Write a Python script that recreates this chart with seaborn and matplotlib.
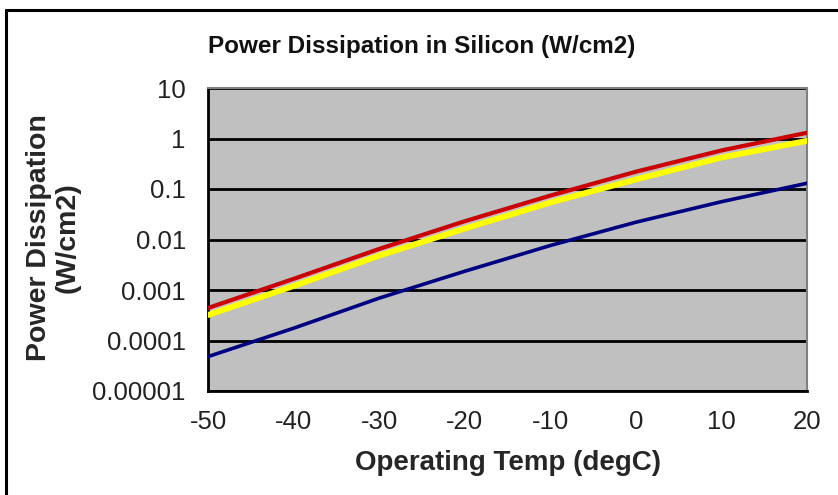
import matplotlib
matplotlib.use("Agg")
import matplotlib.pyplot as plt
from matplotlib.lines import Line2D
from matplotlib.ticker import FixedLocator, FixedFormatter, NullLocator
import seaborn as sns
import pandas as pd
import numpy as np

# Operating temperature (degC) and power dissipation (W/cm2) per curve
temps = [-50, -40, -30, -20, -10, 0, 10, 20]
red_curve = [4.4e-4, 1.66e-3, 6.5e-3, 2.3e-2, 7.4e-2, 0.22, 0.58, 1.3]
yellow_curve = [3.2e-4, 1.2e-3, 4.8e-3, 1.65e-2, 5.4e-2, 0.155, 0.42, 0.9]
navy_curve = [4.8e-5, 1.75e-4, 6.9e-4, 2.35e-3, 7.6e-3, 2.2e-2, 5.6e-2, 0.13]

y_ticks = [1e-5, 1e-4, 1e-3, 1e-2, 1e-1, 1, 10]
y_tick_labels = ["0.00001", "0.0001", "0.001", "0.01", "0.1", "1", "10"]
x_ticks = [-50, -40, -30, -20, -10, 0, 10, 20]

series = {"navy": navy_curve, "yellow": yellow_curve, "red": red_curve}
df = pd.concat(
    [pd.DataFrame({"temp": temps, "power": vals, "series": name})
     for name, vals in series.items()],
    ignore_index=True,
)

sns.set_style("white")
plt.rcParams["font.family"] = ["Liberation Sans", "DejaVu Sans"]

fig = plt.figure(figsize=(8.38, 4.95), dpi=100)
fig.patch.set_facecolor("white")
ax = fig.add_axes([208 / 838, 1 - 391 / 495, 599 / 838, 303 / 495])
ax.set_facecolor("#c0c0c0")

styles = {"navy": ("#000080", 2.6), "yellow": ("#ffff00", 4.2), "red": ("#cc0000", 3.0)}
for name in ["navy", "yellow", "red"]:
    color, lw = styles[name]
    sns.lineplot(data=df[df["series"] == name], x="temp", y="power",
                 color=color, linewidth=lw, ax=ax, legend=False, zorder=3)

ax.set_yscale("log")
ax.set_ylim(1e-5, 10)
ax.set_xlim(-50, 20)
ax.yaxis.set_major_locator(FixedLocator(y_ticks))
ax.yaxis.set_major_formatter(FixedFormatter(y_tick_labels))
ax.yaxis.set_minor_locator(NullLocator())
ax.set_xticks(x_ticks)
ax.set_xticklabels([str(t) for t in x_ticks])

ax.grid(True, axis="y", color="black", linewidth=2.0)
ax.grid(False, axis="x")
ax.set_axisbelow(True)

for side in ["left", "bottom"]:
    ax.spines[side].set_color("black")
    ax.spines[side].set_linewidth(2.0)
for side in ["top", "right"]:
    ax.spines[side].set_color("#808080")
    ax.spines[side].set_linewidth(1.5)

ax.tick_params(axis="both", which="major", direction="out", length=7, width=2,
               color="black", labelsize=18.5, labelcolor="#222222")
ax.tick_params(axis="y", pad=9)
ax.tick_params(axis="x", pad=7)

ax.set_xlabel("Operating Temp (degC)", fontsize=20, fontweight="bold", labelpad=11)
ax.set_ylabel("Power Dissipation\n(W/cm2)", fontsize=20.5, fontweight="bold",
              va="center", ha="center", linespacing=1.15)
ax.yaxis.set_label_coords(-0.258, 0.505)

fig.text(0.503, 0.907, "Power Dissipation in Silicon (W/cm2)", ha="center",
         va="center", fontsize=17.5, fontweight="bold", color="#111111")

# chart-area frame
fig.add_artist(Line2D([6 / 838, 6 / 838], [0.0, 1 - 9.5 / 495],
                      transform=fig.transFigure, color="black", linewidth=2.2))
fig.add_artist(Line2D([6 / 838, 1.0], [1 - 9.5 / 495, 1 - 9.5 / 495],
                      transform=fig.transFigure, color="black", linewidth=2.2))

fig.savefig("out.png", dpi=100, facecolor="white")
